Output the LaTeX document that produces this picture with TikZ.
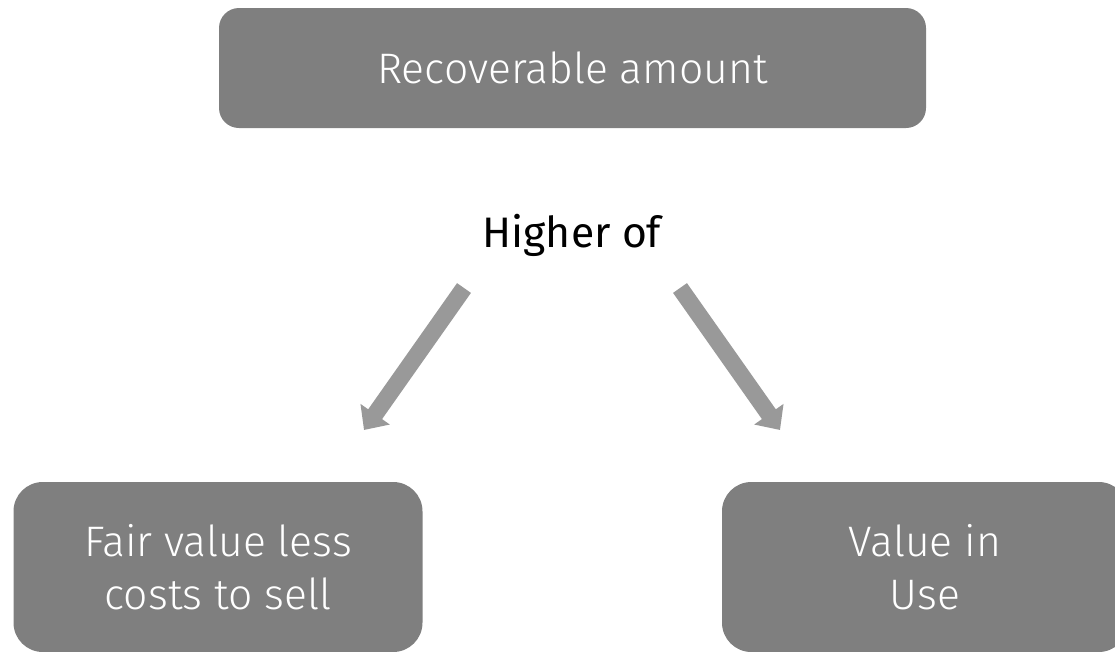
\documentclass[tikz,border=0pt]{standalone}
\usepackage{fontspec}
\setmainfont{Fira Sans Light}
\newfontfamily\regfont{Fira Sans}
\usetikzlibrary{arrows.meta}
\definecolor{boxgray}{HTML}{7F7F7F}
\definecolor{arrowgray}{HTML}{999999}
\tikzset{
    amountbox/.style={fill=boxgray, text=white, rounded corners=22pt, align=center,
        font=\fontsize{32}{40}\selectfont},
    downarrow/.style={draw=arrowgray, line width=12.75pt,
        -{Triangle[width=26pt,length=14.5pt]}}
}
\begin{document}
\begin{tikzpicture}[x=0.75pt,y=-0.75pt]
\useasboundingbox (0,0) rectangle (1115,651);
\clip (0,0) rectangle (1115,651);

\begin{scope}
    \node[amountbox, rounded corners=15pt, minimum width=530.25pt, minimum height=90pt]
        (recov) at (572.5,68) {Recoverable amount};
    \node[anchor=base, font=\regfont\fontsize{32}{40}\selectfont] (higher) at (572,247) {Higher of};
\end{scope}

\begin{scope}
    \node[amountbox, minimum width=306.75pt, minimum height=127.5pt]
        (fairvalue) at (218,567) {Fair value less\\costs to sell};
    \node[amountbox, minimum width=304.5pt, minimum height=127.5pt]
        (useval) at (925,567) {Value in\\Use};
\end{scope}

\coordinate (lefttail) at (464,288);
\coordinate (lefttip) at (364,430);
\coordinate (righttail) at (680,288);
\coordinate (righttip) at (780,430);
\draw[downarrow] (lefttail) -- (lefttip);
\draw[downarrow] (righttail) -- (righttip);
\end{tikzpicture}
\end{document}
